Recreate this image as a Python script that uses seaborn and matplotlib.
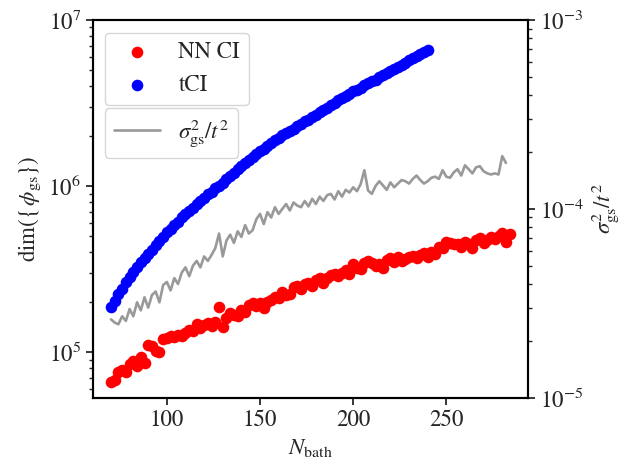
import numpy as np
import pandas as pd
import matplotlib
matplotlib.use("Agg")
import matplotlib.pyplot as plt
import seaborn as sns

# --- data ---
n_bath = list(range(70, 285, 2))        # NN CI points
n_bath_tci = list(range(70, 241, 2))    # tCI points
n_bath_var = list(range(70, 283, 2))    # sigma^2/t^2 line

# dim({phi_gs}) for NN CI, in units of 1e5
nn_ci = [0.66, 0.68, 0.76, 0.78, 0.76, 0.85, 0.88, 0.82, 0.93, 0.86,
         1.10, 1.08, 1.02, 1.00, 1.20, 1.22, 1.24, 1.23, 1.26, 1.24,
         1.30, 1.36, 1.33, 1.48, 1.40, 1.45, 1.50, 1.44, 1.52, 1.86,
         1.42, 1.60, 1.72, 1.68, 1.64, 1.80, 1.74, 1.92, 1.96, 1.88,
         1.98, 1.84, 2.00, 2.05, 2.15, 2.10, 2.30, 2.20, 2.22, 2.45,
         2.50, 2.40, 2.56, 2.62, 2.50, 2.70, 2.78, 2.62, 2.80, 2.90,
         2.95, 2.86, 3.00, 3.10, 2.94, 3.40, 3.20, 3.18, 3.42, 3.55,
         3.45, 3.30, 3.40, 3.20, 3.60, 3.70, 3.50, 3.75, 3.55, 3.65,
         3.72, 3.78, 3.70, 3.85, 3.95, 3.75, 4.00, 3.90, 4.30, 4.20,
         4.60, 4.55, 4.45, 4.50, 4.30, 4.60, 4.45, 4.20, 4.70, 4.85,
         4.55, 4.70, 4.90, 4.80, 5.00, 5.20, 4.60, 5.10]

# dim({phi_gs}) for tCI, in units of 1e6
tci = [0.186, 0.204, 0.224, 0.240, 0.263, 0.282, 0.302, 0.324, 0.347, 0.367,
       0.389, 0.412, 0.442, 0.468, 0.495, 0.525, 0.550, 0.582, 0.610, 0.646,
       0.676, 0.708, 0.741, 0.776, 0.813, 0.851, 0.891, 0.923, 0.966, 1.000,
       1.047, 1.096, 1.148, 1.202, 1.259, 1.318, 1.365, 1.429, 1.496, 1.549,
       1.622, 1.679, 1.738, 1.820, 1.884, 1.950, 2.018, 2.089, 2.138, 2.213,
       2.291, 2.371, 2.455, 2.512, 2.600, 2.692, 2.786, 2.884, 2.951, 3.055,
       3.162, 3.273, 3.388, 3.467, 3.589, 3.715, 3.802, 3.890, 4.074, 4.169,
       4.266, 4.365, 4.519, 4.624, 4.786, 4.898, 5.070, 5.188, 5.370, 5.495,
       5.754, 5.888, 6.026, 6.237, 6.383, 6.607]

# sigma_gs^2 / t^2, in units of 1e-5
sigma_var = [2.60, 2.50, 2.45, 2.70, 2.55, 2.95, 2.70, 3.20, 2.90, 3.40,
             3.00, 3.50, 3.65, 3.20, 3.95, 4.10, 3.70, 4.30, 4.00, 4.60,
             4.90, 4.40, 5.00, 5.30, 4.90, 5.60, 5.30, 5.70, 6.20, 7.40,
             5.60, 6.80, 7.30, 6.60, 7.60, 7.10, 8.20, 7.40, 7.70, 8.80,
             9.40, 8.30, 9.60, 9.00, 10.2, 9.40, 10.0, 10.6, 9.80, 10.8,
             10.4, 10.2, 11.0, 10.3, 11.3, 10.6, 11.6, 11.0, 11.8, 12.0,
             11.2, 12.4, 11.6, 12.6, 12.2, 13.0, 12.4, 13.5, 16.0, 12.5,
             12.0, 13.2, 14.0, 13.3, 12.6, 13.8, 13.0, 13.6, 14.2, 14.0,
             13.6, 14.4, 15.0, 14.2, 13.6, 14.0, 14.6, 14.8, 14.4, 16.0,
             14.8, 14.6, 15.6, 16.2, 15.0, 17.0, 16.2, 15.4, 16.6, 16.8,
             15.8, 15.4, 15.2, 15.4, 15.2, 19.0, 17.5]

df_nn = pd.DataFrame({"N": n_bath, "dim": np.array(nn_ci) * 1e5})
df_tci = pd.DataFrame({"N": n_bath_tci, "dim": np.array(tci) * 1e6})
df_var = pd.DataFrame({"N": n_bath_var, "var": np.array(sigma_var) * 1e-5})

# --- style ---
sns.set_style("ticks")
plt.rcParams["font.family"] = ["STIXGeneral", "DejaVu Serif"]
plt.rcParams["mathtext.fontset"] = "stix"
fs = 16.5
plt.rcParams["font.size"] = fs

fig, ax = plt.subplots(figsize=(6.35, 4.62), dpi=100)
fig.subplots_adjust(left=0.146, right=0.832, top=0.957, bottom=0.139)

sns.scatterplot(data=df_nn, x="N", y="dim", ax=ax, color="red", s=70,
                linewidth=0, label="NN CI")
sns.scatterplot(data=df_tci, x="N", y="dim", ax=ax, color="blue", s=70,
                linewidth=0, label="tCI")
ax.set_yscale("log")
ax.set_xlim(60.2, 294)
ax.set_ylim(5.3e4, 1e7)
ax.set_xticks([100, 150, 200, 250])
ax.set_xlabel(r"$N_{\rm bath}$", fontsize=fs)
ax.set_ylabel(r"dim($\{\,\phi_{\rm gs}\}$)", fontsize=fs)

ax.legend(loc="upper left", bbox_to_anchor=(0.028, 0.966),
          borderaxespad=0, fontsize=fs)

ax2 = ax.twinx()
sns.lineplot(data=df_var, x="N", y="var", ax=ax2, color="gray", alpha=0.8,
             linewidth=1.9, label=r"$\sigma^2_{\rm gs}/t^2$")
ax2.set_yscale("log")
ax2.set_ylim(1e-5, 1e-3)
ax2.set_ylabel(r"$\sigma^2_{\rm gs}/t^2$", fontsize=fs)
ax2.legend(loc="upper left", bbox_to_anchor=(0.028, 0.767),
           borderaxespad=0, fontsize=fs)

for a in (ax, ax2):
    a.tick_params(labelsize=fs, width=1.3, length=5)
    a.tick_params(which="minor", width=1.0, length=3)
    for s in a.spines.values():
        s.set_visible(True)
        s.set_color("black")
        s.set_linewidth(1.5)

plt.savefig("out.png", dpi=100)
